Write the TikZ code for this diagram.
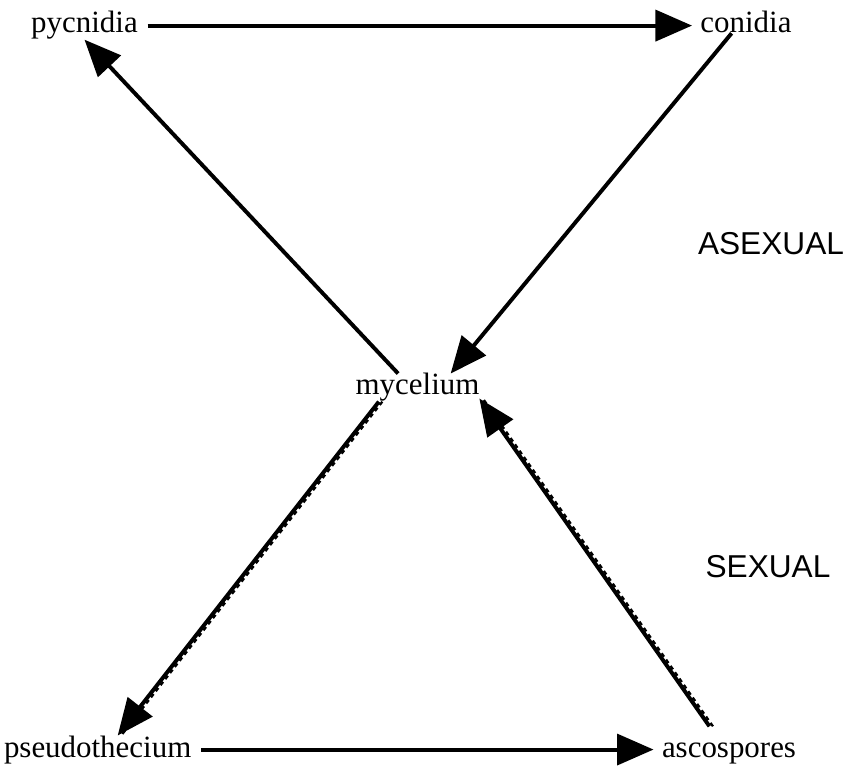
\documentclass[tikz,border=0pt]{standalone}
\usepackage{fontspec}
\setmainfont{Liberation Serif}
\setsansfont{Liberation Sans}
\usetikzlibrary{arrows.meta}

\begin{document}
\begin{tikzpicture}[x=0.025cm,y=-0.025cm,
  stage/.style={inner sep=0pt,outer sep=0pt,font=\fontsize{22}{26}\selectfont},
  phase/.style={inner sep=0pt,font=\sffamily\fontsize{22.5}{27}\selectfont},
  arr/.style={line width=2.8pt,-{Triangle[length=26pt,width=22pt]}},
  hor/.style={shorten <=7pt,shorten >=6pt},
  sexline/.style={postaction={draw,-,line width=1.6pt,dash pattern=on 3pt off 2.5pt,
      transform canvas={xshift=2.5pt}}}]
  \useasboundingbox (0,0) rectangle (850,773);
  \node[stage,anchor=base] (pyc) at (84.5,33) {pycnidia};
  \node[stage,anchor=base] (con) at (746,33) {conidia};
  \node[stage,anchor=base] (myc) at (417.5,395) {mycelium};
  \node[stage,anchor=base west] (pseudo) at (4,757) {pseudothecium};
  \node[stage,anchor=base west] (asco) at (662,757) {ascospores};
  \node[phase] (asex) at (771,244) {ASEXUAL};
  \node[phase] (sex) at (768,567) {SEXUAL};

  \draw[arr,hor] (pyc.east) -- (pyc.east -| con.west);
  \draw[arr] (con.217) -- (myc.23);
  \draw[arr] (myc.144) -- (pyc.south);
  \draw[arr,sexline] (myc.200) -- (pseudo.35);
  \draw[arr,hor] (pseudo.east) -- (pseudo.east -| asco.west);
  \draw[arr,sexline,shorten <=14pt] (asco.128) -- (myc.-10);
\end{tikzpicture}
\end{document}
